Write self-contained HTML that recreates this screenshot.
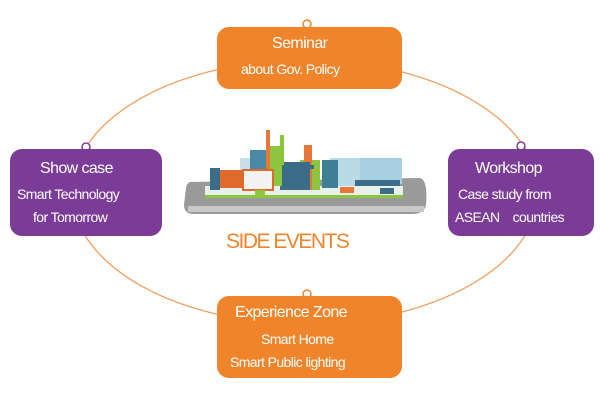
<!DOCTYPE html>
<html><head><style>
body{margin:0;width:600px;height:400px;background:#fff;overflow:hidden;position:relative;font-family:"Liberation Sans",sans-serif}
.b{position:absolute;color:#fff;border-radius:12px;text-align:center;font-size:14px;letter-spacing:-0.6px}
.o{background:#f0842a}.p{background:#7b3c97}
.b div{position:absolute;white-space:nowrap}
</style></head><body>
<svg width="600" height="400" style="position:absolute;left:0;top:0">
<ellipse cx="305" cy="192" rx="233" ry="132" fill="none" stroke="#f0a060" stroke-width="1.3"/>
<!-- tablet -->
<path d="M190 182 L420 178 Q428 180 426 205 Q424 214 412 214 L194 214 Q184 214 184 205 L186 188 Q187 183 190 182Z" fill="#9a9a9a"/>
<rect x="188" y="206" width="236" height="6" fill="#c8c8c8"/>
<rect x="205" y="186" width="198" height="12" fill="#e8f0ea"/>
<rect x="205" y="195" width="198" height="3" fill="#8cc63f"/>
<rect x="360" y="158" width="42" height="26" fill="#a8d0e0"/>
<rect x="330" y="158" width="30" height="28" fill="#b8dbe6"/>
<rect x="322" y="160" width="16" height="28" fill="#3f7f96"/>
<rect x="300" y="160" width="20" height="30" fill="#8cc63f"/>
<rect x="304" y="145" width="8" height="45" fill="#e8763a"/>
<rect x="280" y="162" width="30" height="28" fill="#3b6d88"/>
<rect x="268" y="146" width="14" height="40" fill="#8cc63f"/>
<rect x="250" y="150" width="16" height="36" fill="#4a88a6"/>
<rect x="240" y="158" width="10" height="28" fill="#c8dfe8"/>
<rect x="280" y="135" width="4" height="30" fill="#8cc63f"/>
<rect x="266" y="130" width="4" height="40" fill="#e8763a"/>
<rect x="215" y="170" width="30" height="18" fill="#e06a2c"/>
<rect x="210" y="168" width="10" height="22" fill="#3b6d88"/>
<rect x="243" y="170" width="30" height="20" fill="#f2f2f2" stroke="#e06a2c" stroke-width="2"/>
<rect x="282" y="165" width="32" height="4" fill="#3b6d88"/>
<rect x="355" y="180" width="45" height="6" fill="#3b6d88"/>
<rect x="340" y="187" width="14" height="6" fill="#e8763a"/>
<rect x="255" y="190" width="10" height="5" fill="#8cc63f"/>
<rect x="380" y="188" width="14" height="6" fill="#3b6d88"/>
<text x="226" y="248" font-family="Liberation Sans,sans-serif" font-size="21" fill="#f0842a" letter-spacing="-1.5">SIDE EVENTS</text>
<g fill="#fff" stroke="#f0842a" stroke-width="1.5">
<circle cx="307" cy="24" r="4"/><circle cx="307" cy="294" r="4"/>
</g>
<g fill="#fff" stroke="#7b3c97" stroke-width="1.5">
<circle cx="86" cy="147" r="4"/><circle cx="521" cy="146" r="4"/>
</g>
</svg>
<div class="b o" style="left:217px;top:27px;width:185px;height:62px">
<div style="left:55px;top:8px;font-size:16px">Seminar</div>
<div style="left:24px;top:34px">about Gov. Policy</div></div>
<div class="b p" style="left:10px;top:149px;width:152px;height:87px">
<div style="left:30px;top:11px;font-size:16px">Show case</div>
<div style="left:7px;top:37px">Smart Technology</div>
<div style="left:23px;top:60px">for Tomorrow</div></div>
<div class="b p" style="left:448px;top:149px;width:146px;height:87px">
<div style="left:27px;top:11px;font-size:16px">Workshop</div>
<div style="left:10px;top:37px">Case study from</div>
<div style="left:7px;top:60px">ASEAN&nbsp;&nbsp;&nbsp;&nbsp;countries</div></div>
<div class="b o" style="left:217px;top:296px;width:185px;height:82px">
<div style="left:18px;top:8px;font-size:16px">Experience Zone</div>
<div style="left:44px;top:35px">Smart Home</div>
<div style="left:13px;top:58px">Smart Public lighting</div></div>
</body></html>
